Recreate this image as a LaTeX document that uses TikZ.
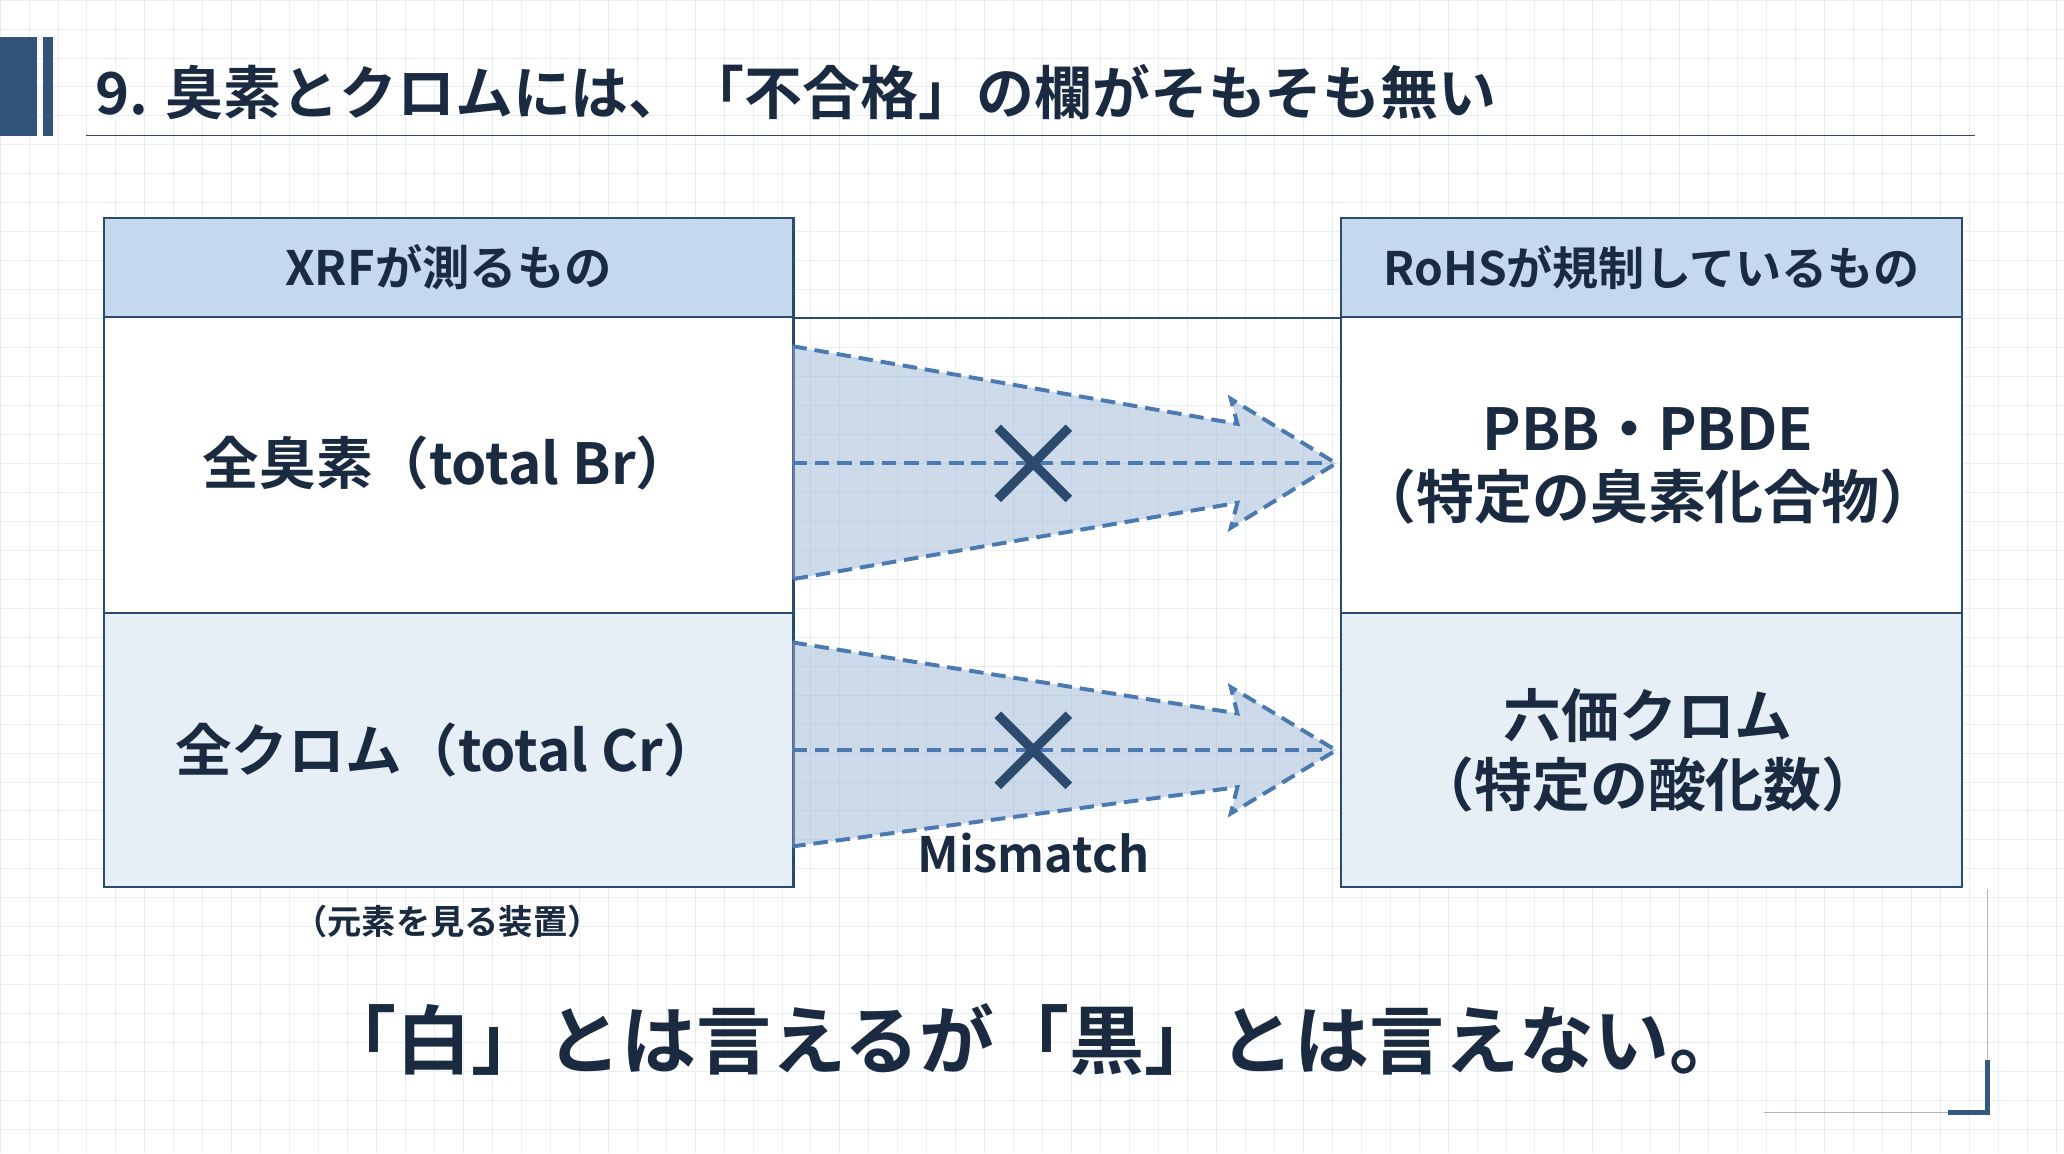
\documentclass[tikz,border=0pt]{standalone}
\usepackage{fontspec}
\setmainfont{Noto Sans CJK JP}[BoldFont={Noto Sans CJK JP Bold}]
\definecolor{navy}{HTML}{1A2A40}
\definecolor{edge}{HTML}{2C4A6E}
\definecolor{dash}{HTML}{4A7AB0}
\definecolor{head}{HTML}{C5D9EE}
\definecolor{pale}{HTML}{E6EEF6}
\definecolor{gridc}{HTML}{E9EEF3}
\begin{document}
\begin{tikzpicture}[x=1pt,y=-1pt,
 cell/.style={draw=edge,line width=1.6pt,rectangle,anchor=north west,inner sep=0pt},
 txt/.style={text=navy,font=\bfseries,align=center,inner sep=0pt},
 funnel/.style={draw=dash,dash pattern=on 11pt off 6pt,line width=3pt,fill=dash!55!white,fill opacity=0.5},
 mid/.style={draw=dash,dash pattern=on 11pt off 6pt,line width=3pt},
 cross/.style={draw=edge,line width=7pt}]
\useasboundingbox (0,0) rectangle (1568,876);
\fill[white] (0,0) rectangle (1568,876);
\foreach \i in {0,...,72} {\draw[gridc,line width=0.6pt] (\i*22,0) -- (\i*22,876);}
\foreach \j in {0,...,40} {\draw[gridc,line width=0.6pt] (0,\j*22) -- (1568,\j*22);}
% title bar
\fill[edge!80!dash] (0,28) rectangle (28,103);
\fill[edge!80!dash] (33,28) rectangle (40,103);
\node[txt,anchor=west,font=\bfseries\fontsize{44}{48}\selectfont] (title) at (72,70) {9. 臭素とクロムには、「不合格」の欄がそもそも無い};
\draw[edge,line width=1.2pt] (65,103) -- (1500,103);
% left table
\node[cell,fill=head,minimum width=524,minimum height=75] (lh) at (78,165) {};
\node[cell,fill=white,minimum width=524,minimum height=225] (l1) at (78,240) {};
\node[cell,fill=pale,minimum width=524,minimum height=208] (l2) at (78,465) {};
\node[txt,font=\bfseries\fontsize{36}{40}\selectfont] (lht) at (lh.center) {XRFが測るもの};
\node[txt,font=\bfseries\fontsize{43}{50}\selectfont] (l1t) at (340,352) {全臭素（total Br）};
\node[txt,font=\bfseries\fontsize{43}{50}\selectfont] (l2t) at (340,570) {全クロム（total Cr）};
% right table
\node[cell,fill=head,minimum width=472,minimum height=75] (rh) at (1018,165) {};
\node[cell,fill=white,minimum width=472,minimum height=225] (r1) at (1018,240) {};
\node[cell,fill=pale,minimum width=472,minimum height=208] (r2) at (1018,465) {};
\node[txt,font=\bfseries\fontsize{35}{40}\selectfont] (rht) at (rh.center) {RoHSが規制しているもの};
\node[txt,font=\bfseries\fontsize{44}{52}\selectfont] (r1t) at (1252,354) {PBB・PBDE\\（特定の臭素化合物）};
\node[txt,font=\bfseries\fontsize{44}{52}\selectfont] (r2t) at (1252,570) {六価クロム\\（特定の酸化数）};
\draw[edge,line width=1.6pt] (lh.south east) -- (rh.south west);
% funnels
\draw[funnel] (602,263) -- (940,322) -- (935,303) -- (1015,352) -- (935,401) -- (940,382) -- (602,440);
\draw[mid] (602,352) -- (1010,352);
\draw[cross] (758,325) -- (812,379) (812,325) -- (758,379);
\draw[funnel] (602,488) -- (940,542) -- (935,522) -- (1015,570) -- (935,618) -- (940,598) -- (602,643);
\draw[mid] (602,570) -- (1010,570);
\draw[cross] (758,543) -- (812,597) (812,543) -- (758,597);
\node[txt,font=\bfseries\fontsize{37}{40}\selectfont] (mm) at (785,648) {Mismatch};
\node[txt,font=\bfseries\fontsize{26}{30}\selectfont] (dev) at (340,700) {（元素を見る装置）};
\node[txt,font=\bfseries\fontsize{57}{64}\selectfont] (bottom) at (785,790) {「白」とは言えるが「黒」とは言えない。};
% corner bracket
\draw[edge!70!dash,line width=4pt] (1510,805) -- (1510,845) -- (1480,845);
\draw[edge!40!white,line width=1pt] (1510,675) -- (1510,805) (1480,845) -- (1340,845);
\end{tikzpicture}
\end{document}
